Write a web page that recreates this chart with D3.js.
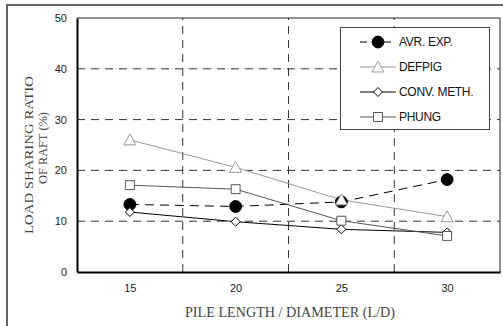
<!DOCTYPE html>
<html>
<head>
<meta charset="utf-8">
<script src="https://cdn.jsdelivr.net/npm/d3@7"></script>
<style>
  body { margin: 0; background: #fff; }
  text { font-family: "Liberation Sans", Arial, sans-serif; }
  .serif { font-family: "Liberation Serif", "Times New Roman", serif; }
</style>
</head>
<body>
<div class="chart"></div>
<script>
const ld = [15, 20, 25, 30];
const avrExp = [13.3, 12.9, 13.8, 18.2];
const defpig = [26.0, 20.6, 14.2, 10.9];
const convMeth = [11.8, 9.9, 8.4, 7.8];
const phung = [17.1, 16.3, 10.1, 7.1];
const yTicks = [0, 10, 20, 30, 40, 50];
const xGrid = [17.5, 22.5, 27.5];
const yGrid = [10, 20, 30, 40];

const series = [
  {name: 'AVR. EXP.', values: avrExp, color: '#000', marker: 'circle', dash: '9,6'},
  {name: 'DEFPIG', values: defpig, color: '#999', marker: 'triangle', dash: null},
  {name: 'CONV. METH.', values: convMeth, color: '#000', marker: 'diamond', dash: null},
  {name: 'PHUNG', values: phung, color: '#555', marker: 'square', dash: null}
];

const width = 503, height = 326;
const margin = ({top: 18, right: 3, bottom: 54, left: 77});

const svg = d3.select('.chart')
  .append('svg')
  .attr('width', width)
  .attr('height', height);

// outer frame (only left and top are visible in the image)
svg.append('path')
  .attr('d', `M7,${height} V5 H${width}`)
  .attr('fill', 'none')
  .attr('stroke', '#333')
  .attr('stroke-width', 1.5);

const xScale = d3.scaleLinear()
  .domain([12.5, 32.5])
  .range([margin.left, width - margin.right]);

const yScale = d3.scaleLinear()
  .domain([0, 50])
  .range([height - margin.bottom, margin.top]);

// grid
svg.append('g')
  .selectAll('line')
  .data(yGrid)
  .join('line')
  .attr('x1', xScale.range()[0])
  .attr('x2', xScale.range()[1])
  .attr('y1', d => yScale(d))
  .attr('y2', d => yScale(d))
  .attr('stroke', '#333')
  .attr('stroke-dasharray', '8,6');

svg.append('g')
  .selectAll('line')
  .data(xGrid)
  .join('line')
  .attr('x1', d => xScale(d))
  .attr('x2', d => xScale(d))
  .attr('y1', yScale(0))
  .attr('y2', yScale(50))
  .attr('stroke', '#333')
  .attr('stroke-dasharray', '8,6');

// top / right frame of plot
svg.append('path')
  .attr('d', `M${xScale(12.5)},${yScale(50)} H${xScale(32.5)} V${yScale(0)}`)
  .attr('fill', 'none')
  .attr('stroke', '#222')
  .attr('stroke-width', 1);

// axes
const xAxis = d3.axisBottom(xScale)
  .tickValues(ld)
  .tickSize(0)
  .tickPadding(12);

const yAxis = d3.axisLeft(yScale)
  .tickValues(yTicks)
  .tickSize(0)
  .tickPadding(10);

svg.append('g')
  .attr('transform', `translate(0,${yScale(0)})`)
  .call(xAxis)
  .call(g => g.select('.domain').attr('stroke', '#000').attr('stroke-width', 2))
  .call(g => g.selectAll('text').attr('font-size', 11).attr('fill', '#222')
    .attr('font-family', '"Liberation Sans", Arial, sans-serif'));

svg.append('g')
  .attr('transform', `translate(${xScale(12.5)},0)`)
  .call(yAxis)
  .call(g => g.select('.domain').attr('stroke', '#000').attr('stroke-width', 2))
  .call(g => g.selectAll('text').attr('font-size', 11).attr('fill', '#222')
    .attr('font-family', '"Liberation Sans", Arial, sans-serif'));

// axis titles
svg.append('text')
  .attr('class', 'serif')
  .attr('x', 290)
  .attr('y', 317)
  .attr('text-anchor', 'middle')
  .attr('font-size', 14)
  .attr('fill', '#444')
  .attr('textLength', 210)
  .attr('lengthAdjust', 'spacingAndGlyphs')
  .text('PILE LENGTH / DIAMETER (L/D)');

svg.append('text')
  .attr('class', 'serif')
  .attr('transform', 'translate(33,234) rotate(-90)')
  .attr('font-size', 13)
  .attr('fill', '#444')
  .attr('textLength', 158)
  .attr('lengthAdjust', 'spacingAndGlyphs')
  .text('LOAD SHARING RATIO');

svg.append('text')
  .attr('class', 'serif')
  .attr('transform', 'translate(47,184) rotate(-90)')
  .attr('font-size', 13)
  .attr('fill', '#444')
  .attr('textLength', 72)
  .attr('lengthAdjust', 'spacingAndGlyphs')
  .text('OF RAFT (%)');

// markers
function marker(sel, s) {
  let p;
  if (s.marker === 'circle') p = d3.symbol(d3.symbolCircle, 110)();
  else if (s.marker === 'triangle') p = 'M0,-6L6,5L-6,5Z';
  else if (s.marker === 'diamond') p = 'M0,-4.5L4.5,0L0,4.5L-4.5,0Z';
  else p = d3.symbol(d3.symbolSquare, 80)();
  sel.append('path')
    .attr('d', p)
    .attr('fill', s.marker === 'circle' ? '#000' : '#fff')
    .attr('stroke', s.color)
    .attr('stroke-width', 1);
}

const line = d3.line()
  .x((d, i) => xScale(ld[i]))
  .y(d => yScale(d));

// draw order: lines first, then markers
series.forEach(s => {
  svg.append('path')
    .datum(s.values)
    .attr('fill', 'none')
    .attr('stroke', s.color)
    .attr('stroke-width', 1)
    .attr('stroke-dasharray', s.dash)
    .attr('d', line);
});

series.forEach(s => {
  svg.append('g')
    .selectAll('g')
    .data(s.values)
    .join('g')
    .attr('transform', (d, i) => `translate(${xScale(ld[i])},${yScale(d)})`)
    .each(function() { marker(d3.select(this), s); });
});

// legend
const legend = svg.append('g');
legend.append('rect')
  .attr('x', 340.5)
  .attr('y', 27.5)
  .attr('width', 149)
  .attr('height', 102)
  .attr('fill', '#fff')
  .attr('stroke', '#444')
  .attr('stroke-width', 1);

series.forEach((s, i) => {
  const y = 42 + i * 25;
  const g = legend.append('g');
  g.append('line')
    .attr('x1', 360)
    .attr('x2', 396)
    .attr('y1', y)
    .attr('y2', y)
    .attr('stroke', s.color)
    .attr('stroke-dasharray', s.dash ? '7,5' : null);
  marker(g.append('g').attr('transform', `translate(378,${y})`), s);
  g.append('text')
    .attr('x', 399)
    .attr('y', y)
    .attr('dy', '0.35em')
    .attr('font-size', 12)
    .attr('fill', '#111')
    .attr('letter-spacing', '-0.3')
    .text(s.name);
});
</script>
</body>
</html>
